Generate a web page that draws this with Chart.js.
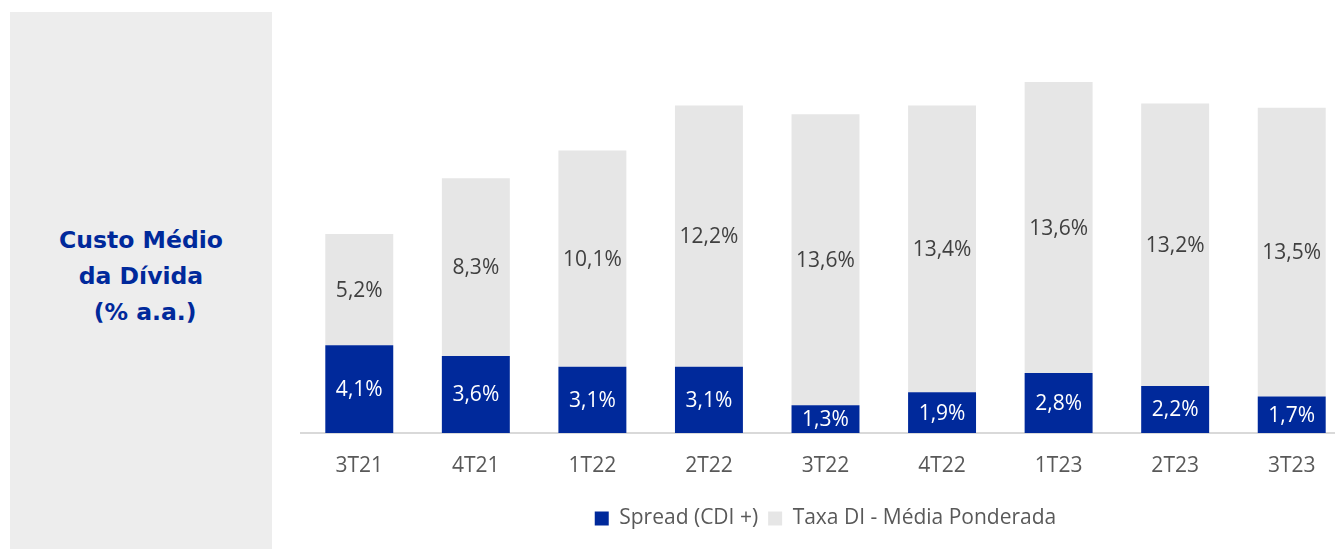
<!DOCTYPE html>
<html>
<head>
<meta charset="utf-8">
<script src="https://cdn.jsdelivr.net/npm/chart.js@4"></script>
<style>
  html, body { margin: 0; padding: 0; background: #fff; width: 1335px; height: 549px; overflow: hidden; }
  .side {
    position: absolute; left: 10px; top: 12px; width: 262px; height: 545px;
    background: #ededed;
  }
  .side-title {
    position: absolute; left: 0; right: 0; top: 210px;
    text-align: center; color: #00299b;
    font: bold 23.5px 'DejaVu Sans', Verdana, sans-serif; line-height: 36px;
  }
  .chart-box { position: absolute; left: 290px; top: 0; width: 1080px; height: 549px; }
</style>
</head>
<body>
<div class="side"><div class="side-title">Custo Médio<br>da Dívida<br>&nbsp;(% a.a.)</div></div>
<div class="chart-box"><canvas id="chart"></canvas></div>
<script>
const categories = ['3T21', '4T21', '1T22', '2T22', '3T22', '4T22', '1T23', '2T23', '3T23'];
const spread = [4.1, 3.6, 3.1, 3.1, 1.3, 1.9, 2.8, 2.2, 1.7];
const taxaDI = [5.2, 8.3, 10.1, 12.2, 13.6, 13.4, 13.6, 13.2, 13.5];

const labelFont = "21px 'Open Sans', sans-serif";

// writes each value in the middle of its bar segment
const segmentLabels = {
  id: 'segmentLabels',
  afterDatasetsDraw(chart) {
    const { ctx } = chart;
    ctx.save();
    ctx.font = labelFont;
    ctx.textAlign = 'center';
    ctx.textBaseline = 'middle';
    chart.data.datasets.forEach((ds, i) => {
      chart.getDatasetMeta(i).data.forEach((bar, j) => {
        const mid = (bar.y + bar.base) / 2;
        ctx.fillStyle = i === 0 ? '#ffffff' : '#404040';
        ctx.fillText(ds.data[j].toFixed(1).replace('.', ',') + '%', bar.x, mid + 1);
      });
    });
    ctx.restore();
  },
};

new Chart(document.getElementById('chart'), {
  type: 'bar',
  data: {
    labels: categories,
    datasets: [
      { label: 'Spread (CDI +)', data: spread, backgroundColor: '#00299b' },
      { label: 'Taxa DI - Média Ponderada', data: taxaDI, backgroundColor: '#e6e6e6' },
    ],
  },
  options: {
    responsive: true,
    maintainAspectRatio: false,
    animation: false,
    layout: { padding: { top: 5, left: 11, right: 20, bottom: 10 } },
    datasets: { bar: { categoryPercentage: 1, barPercentage: 0.583 } },
    scales: {
      x: {
        stacked: true,
        grid: { display: false },
        border: { display: true, color: '#d9d9d9', width: 2 },
        ticks: { color: '#595959', font: { family: 'Open Sans', size: 21 }, padding: 12 },
        afterFit(scale) { scale.height = 65; },
      },
      y: { stacked: true, display: false, min: 0, max: 20 },
    },
    plugins: {
      legend: {
        position: 'bottom',
        labels: {
          boxWidth: 14, boxHeight: 14, padding: 10,
          color: '#595959', font: { family: 'Open Sans', size: 21 },
        },
      },
      tooltip: { enabled: false },
    },
  },
  plugins: [segmentLabels],
});
</script>
</body>
</html>
